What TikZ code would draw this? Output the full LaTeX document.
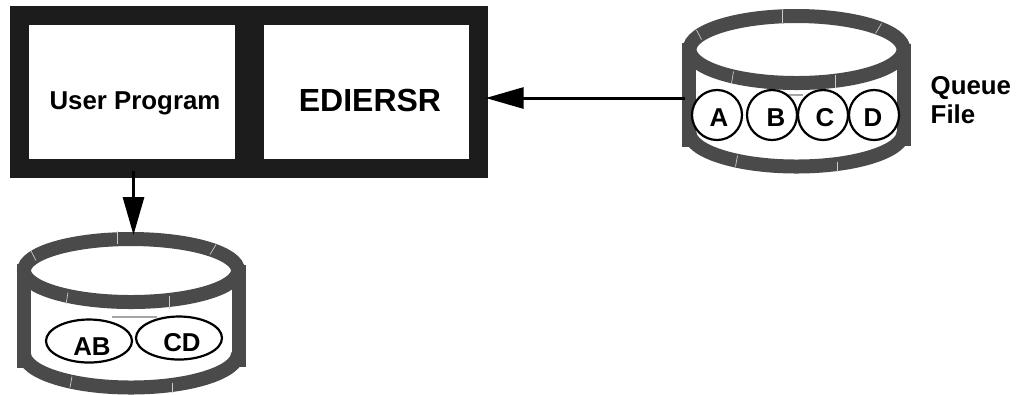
\documentclass[tikz,border=0pt]{standalone}
\usepackage{fontspec}
\setmainfont{Liberation Sans}
\usetikzlibrary{arrows.meta,shapes.geometric}
\definecolor{framegray}{HTML}{1C1C1C}
\definecolor{drumgray}{HTML}{4A4A4A}
\tikzset{
	panel/.style={fill=white,inner sep=0pt,minimum height=1.34cm},
	boldtext/.style={inner sep=0pt,font=\fontsize{7.35}{8.4}\selectfont\bfseries},
	drumtop/.style={ellipse,draw=drumgray,line width=0.14cm,minimum width=2.14cm,inner sep=0pt},
	drumwall/.style={drumgray,line width=0.14cm},
	drumseam/.style={gray!40,line width=0.2pt},
	item/.style={draw,fill=white,line width=0.022cm,inner sep=0pt},
	flow/.style={-{Triangle[length=0.38cm,width=0.21cm]},line width=0.03cm,shorten >=-0.03cm}
}
\begin{document}
\begin{tikzpicture}
		\useasboundingbox (0,0) rectangle (10.19,-3.94);
		\node[fill=framegray,minimum width=4.78cm,minimum height=1.72cm,inner sep=0pt] (frame) at (2.49,-0.92) {};
		\node[panel,minimum width=2.06cm] (userprog) at (1.32,-0.92) {};
		\node[panel,minimum width=2.05cm] (ediersr) at (3.665,-0.92) {};
		\node[boldtext] (userlabel) at (1.35,-1.03) {User Program};
		\node[boldtext,font=\fontsize{9.1}{11}\selectfont\bfseries] (edierlabel) at (3.70,-1.00) {EDIERSR};
		
		\foreach \name/\x/\y/\h in {queue/7.965/-0.495/0.67, list/1.31/-2.705/0.63}{
			\draw[drumwall] (\x-1.075,\y+0.07) -- (\x-1.075,\y-0.97);
			\draw[drumwall] (\x+1.075,\y+0.06) -- (\x+1.075,\y-0.96);
			\draw[drumwall] (\x-1.07,\y-0.83) arc[start angle=180,end angle=360,x radius=1.07,y radius=0.34];
			\node[drumtop,minimum height=\h cm] (\name-top) at (\x,\y) {};
			\foreach \ax/\ay/\bx/\by in {-0.14/0.395/-0.14/0.27, -1/0.195/-0.95/0.1, 0.85/0.26/0.79/0.16, -0.63/-0.22/-0.65/-0.34, 0.385/-0.255/0.385/-0.38, -0.59/-1.06/-0.61/-1.17, 0.41/-1.12/0.41/-1.22}{
				\draw[drumseam] (\x+\ax,\y+\ay) -- (\x+\bx,\y+\by);
			}
		}
		\draw[gray!70,line width=0.4pt] (7.87,-0.95) -- (8.03,-0.95);
		\draw[gray!70,line width=0.4pt] (1.12,-3.17) -- (1.57,-3.17);
		
		\foreach \name/\x/\tx/\l in {a/7.17/7.19/A, b/7.72/7.76/B, c/8.23/8.25/C, d/8.74/8.73/D}{
			\node[item,circle,minimum size=0.5cm] (\name) at (\x,-1.15) {};
			\node[boldtext] (\name-label) at (\tx,-1.18) {\l};
		}
		\node[item,ellipse,minimum width=0.86cm,minimum height=0.43cm] (ab) at (0.89,-3.41) {};
		\node[item,ellipse,minimum width=0.86cm,minimum height=0.43cm] (cd) at (1.79,-3.38) {};
		\node[boldtext] (ab-label) at (0.92,-3.47) {AB};
		\node[boldtext] (cd-label) at (1.82,-3.43) {CD};
		
		\node[boldtext,anchor=west,align=left] (queuelabel) at (9.30,-1.00) {Queue\\File};
		
		\coordinate (queueout) at (6.85,-0.98);
		\coordinate (progout) at (1.335,-1.71);
		\draw[flow] (queueout) -- (queueout -| frame.east);
		\draw[flow] (progout) -- (progout |- list-top.north);
\end{tikzpicture}
\end{document}
